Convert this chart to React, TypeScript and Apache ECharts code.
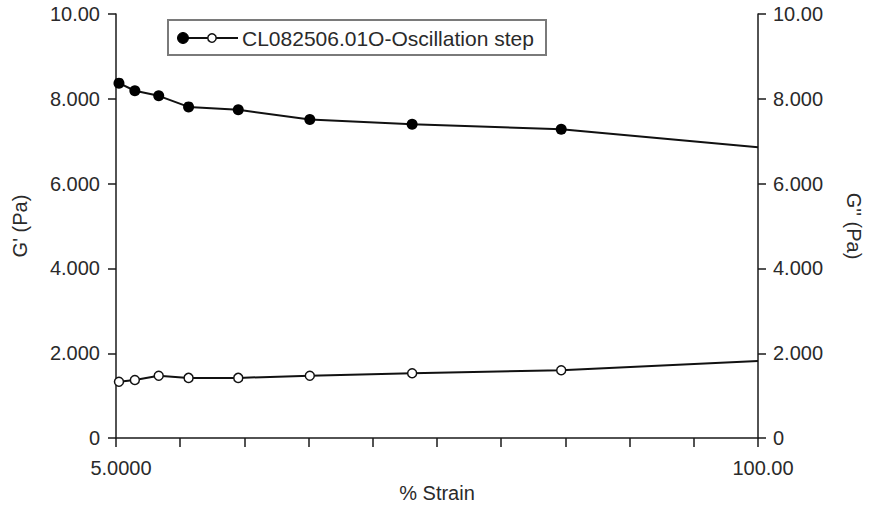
import React, { useEffect, useRef } from "react";
import * as echarts from "echarts";

const strain = [5.44, 7.79, 11.32, 15.74, 23.09, 33.68, 48.82, 70.88, 100];
const gPrime = [8.37, 8.19, 8.07, 7.81, 7.74, 7.51, 7.4, 7.28, 6.86];
const gDoublePrime = [1.33, 1.37, 1.47, 1.42, 1.42, 1.47, 1.53, 1.6, 1.82];
const markerShown = [true, true, true, true, true, true, true, true, false];
const xTicks = [5, 14.5, 24, 33.5, 43, 52.5, 62, 71.5, 81, 90.5, 100];
const xLabelValues = [5, 100];
const xLabelTexts = ["5.0000", "100.00"];
const yLabelTexts: Record<number, string> = { 0: "0", 2: "2.000", 4: "4.000", 6: "6.000", 8: "8.000", 10: "10.00" };
const legendText = "CL082506.01O-Oscillation step";

const FONT = "'Liberation Sans', Arial, sans-serif";
const TXT = "#2a2a2a";
const AX = "#1a1a1a";

export default function App() {
  const ref = useRef<HTMLDivElement>(null);
  useEffect(() => {
    if (!ref.current) return;
    const chart = echarts.init(ref.current, undefined, { renderer: "svg" });
    const mk = (ys: number[]) =>
      strain.map((x, i) => (markerShown[i] ? [x, ys[i]] : { value: [x, ys[i]], symbol: "none" }));
    const yAxisBase = {
      type: "value" as const,
      min: 0,
      max: 10,
      interval: 2,
      splitLine: { show: false },
      axisLine: { show: true, lineStyle: { color: AX, width: 1.5 } },
      axisTick: { show: true, inside: false, length: 8, lineStyle: { color: AX, width: 1.5 } },
      axisLabel: {
        color: TXT,
        fontFamily: FONT,
        fontSize: 20,
        margin: 16,
        formatter: (v: number) => yLabelTexts[v] ?? String(v),
      },
      nameLocation: "middle" as const,
      nameGap: 86,
      nameTextStyle: { color: TXT, fontFamily: FONT, fontSize: 20 },
    };
    chart.setOption({
      animation: false,
      backgroundColor: "#ffffff",
      grid: { left: 116, right: 110, top: 14, bottom: 64, containLabel: false },
      xAxis: {
        type: "value",
        min: 5,
        max: 100,
        name: "% Strain",
        nameLocation: "middle",
        nameGap: 40,
        nameTextStyle: { color: TXT, fontFamily: FONT, fontSize: 20 },
        splitLine: { show: false },
        axisLine: { show: true, onZero: false, lineStyle: { color: AX, width: 1.5 } },
        axisTick: { show: true, inside: false, length: 9, customValues: xTicks, lineStyle: { color: AX, width: 1.5 } },
        axisLabel: {
          color: TXT,
          fontFamily: FONT,
          fontSize: 20,
          margin: 20,
          padding: [0, 0, 0, 10],
          customValues: xLabelValues,
          showMinLabel: true,
          showMaxLabel: true,
          formatter: (v: number) => {
            const i = xLabelValues.indexOf(v);
            return i >= 0 ? xLabelTexts[i] : "";
          },
        },
      },
      yAxis: [
        { ...yAxisBase, position: "left", name: "G' (Pa)" },
        { ...yAxisBase, position: "right", name: "G'' (Pa)", nameRotate: -90, axisLabel: { ...yAxisBase.axisLabel, margin: 15 } },
      ],
      graphic: [
        {
          type: "rect",
          shape: { x: 168, y: 20, width: 378, height: 35 },
          style: { fill: "#ffffff", stroke: "#7a7a7a", lineWidth: 2 },
          z: 100,
        },
        {
          type: "line",
          shape: { x1: 183, y1: 38, x2: 238, y2: 38 },
          style: { stroke: "#111", lineWidth: 2 },
          z: 101,
        },
        {
          type: "circle",
          shape: { cx: 183, cy: 38, r: 5.5 },
          style: { fill: "#000", stroke: "#000", lineWidth: 1 },
          z: 102,
        },
        {
          type: "circle",
          shape: { cx: 212, cy: 38, r: 4.2 },
          style: { fill: "#fff", stroke: "#111", lineWidth: 1.5 },
          z: 102,
        },
        {
          type: "text",
          x: 242,
          y: 38,
          style: { text: legendText, fill: TXT, font: `21px ${FONT}`, verticalAlign: "middle", align: "left" },
          z: 102,
        },
      ],
      series: [
        {
          name: "G'",
          type: "line",
          yAxisIndex: 0,
          data: mk(gPrime),
          symbol: "circle",
          symbolSize: 11,
          showAllSymbol: true,
          lineStyle: { color: "#111", width: 2 },
          itemStyle: { color: "#000", borderColor: "#000", borderWidth: 0 },
        },
        {
          name: "G''",
          type: "line",
          yAxisIndex: 1,
          data: mk(gDoublePrime),
          symbol: "circle",
          symbolSize: 9,
          showAllSymbol: true,
          lineStyle: { color: "#111", width: 2 },
          itemStyle: { color: "#fff", borderColor: "#111", borderWidth: 1.5 },
        },
      ],
    });
    return () => chart.dispose();
  }, []);
  return <div ref={ref} style={{ width: 872, height: 508, position: "absolute", left: 0, top: 0 }} />;
}
